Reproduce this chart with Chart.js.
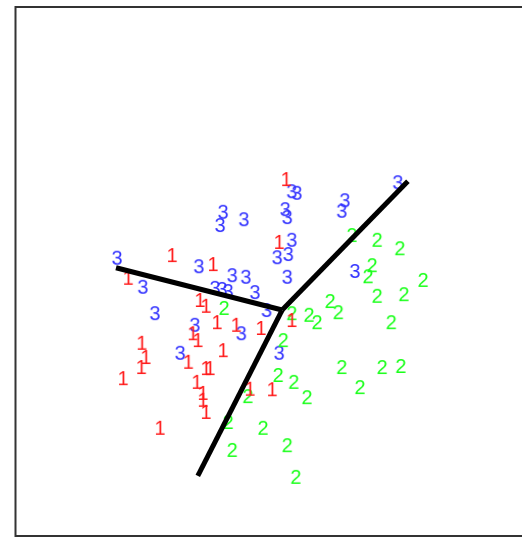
<!DOCTYPE html>
<html>
<head>
<meta charset="utf-8">
<script src="https://cdn.jsdelivr.net/npm/chart.js@4.4.1/dist/chart.umd.min.js"></script>
<style>
html,body{margin:0;padding:0;background:#fff;}
#wrap{position:absolute;left:0;top:0;width:522px;height:539px;}
</style>
</head>
<body>
<div id="wrap"><canvas id="c" width="522" height="539"></canvas></div>
<script>
// Projected coordinates (0-100 plot units) of the three groups
const group1X = [53.5,52.1,30.9,39.0,22.2,36.4,37.6,39.8,43.6,48.5,54.6,35.0,36.0,24.9,25.7,24.8,21.2,34.1,37.6,38.4,41.0,35.8,37.0,37.0,37.6,28.5,46.3,50.7];
const group1Y = [67.6,55.7,53.2,51.5,48.9,44.7,43.6,40.5,40.0,39.4,40.9,38.4,37.1,36.6,33.9,32.0,29.9,33.0,31.8,31.8,35.2,29.2,27.1,25.8,23.5,20.5,27.9,27.8];
const group2X = [66.5,71.5,76.0,70.5,69.7,80.6,71.5,76.8,62.2,63.8,58.0,59.6,74.3,54.6,52.9,64.5,72.5,76.2,51.9,55.0,57.6,68.1,48.9,53.7,55.4,42.0,42.8,45.9,41.2];
const group2Y = [57.0,56.1,54.5,51.3,49.2,48.5,45.5,45.8,44.5,42.4,41.9,40.5,40.5,42.2,37.1,32.0,32.0,32.2,30.5,29.2,26.3,28.2,20.5,17.2,11.2,21.6,16.3,26.5,43.2];
const group3X = [75.6,54.6,55.6,65.1,64.5,41.0,40.4,45.1,53.3,53.7,54.6,51.7,53.9,20.0,36.2,42.8,45.5,25.1,39.4,40.8,42.0,47.3,53.7,67.1,49.6,27.5,35.4,44.6,32.5,52.1];
const group3Y = [67.0,65.3,65.0,63.6,61.6,61.4,58.9,60.0,61.9,60.4,56.1,52.8,53.4,52.7,51.1,49.4,49.1,47.2,47.0,46.8,46.4,46.2,49.1,50.2,42.8,42.2,40.0,38.4,34.7,34.7];
const groupLabels = ["1","2","3"];
const groupColors = ["#ff1a1a","#1aff1a","#3333ff"];
// Axis segments: origin and three end points
const axisOrigin = [52.7, 42.8];
const axisEndX = [19.8, 77.6, 36.0];
const axisEndY = [50.8, 67.2, 11.4];

function digitCanvas(txt, color){
  const c = document.createElement('canvas');
  c.width = 18; c.height = 24;
  const g = c.getContext('2d');
  g.fillStyle = color;
  g.font = '20px "Liberation Sans", Arial, sans-serif';
  g.textAlign = 'center';
  g.textBaseline = 'middle';
  g.fillText(txt, 9, 13);
  return c;
}
function pts(xs, ys){ return xs.map((x,i)=>({x:x, y:ys[i]})); }

const datasets = [];
for (let k=0;k<3;k++){
  datasets.push({
    type:'line',
    data:[{x:axisOrigin[0],y:axisOrigin[1]},{x:axisEndX[k],y:axisEndY[k]}],
    borderColor:'#000', borderWidth:5, pointRadius:0, showLine:true, borderCapStyle:'butt'
  });
}
const gx=[group1X,group2X,group3X], gy=[group1Y,group2Y,group3Y];
for (let k=0;k<3;k++){
  datasets.push({
    type:'scatter',
    data:pts(gx[k],gy[k]),
    pointStyle:digitCanvas(groupLabels[k], groupColors[k]),
    pointRadius:6
  });
}

const frame = {
  id:'frame',
  afterDraw(chart){
    const g = chart.ctx;
    g.save();
    g.strokeStyle = '#333';
    g.lineWidth = 2;
    g.strokeRect(15.5, 7, 520, 529);
    g.restore();
  }
};

new Chart(document.getElementById('c'), {
  type:'scatter',
  data:{datasets},
  options:{
    responsive:false,
    animation:false,
    events:[],
    layout:{autoPadding:false, padding:{left:16,right:1,top:8,bottom:3}},
    plugins:{legend:{display:false},tooltip:{enabled:false}},
    scales:{
      x:{type:'linear',min:0,max:100,display:false},
      y:{type:'linear',min:0,max:100,display:false}
    }
  },
  plugins:[frame]
});
</script>
</body>
</html>
